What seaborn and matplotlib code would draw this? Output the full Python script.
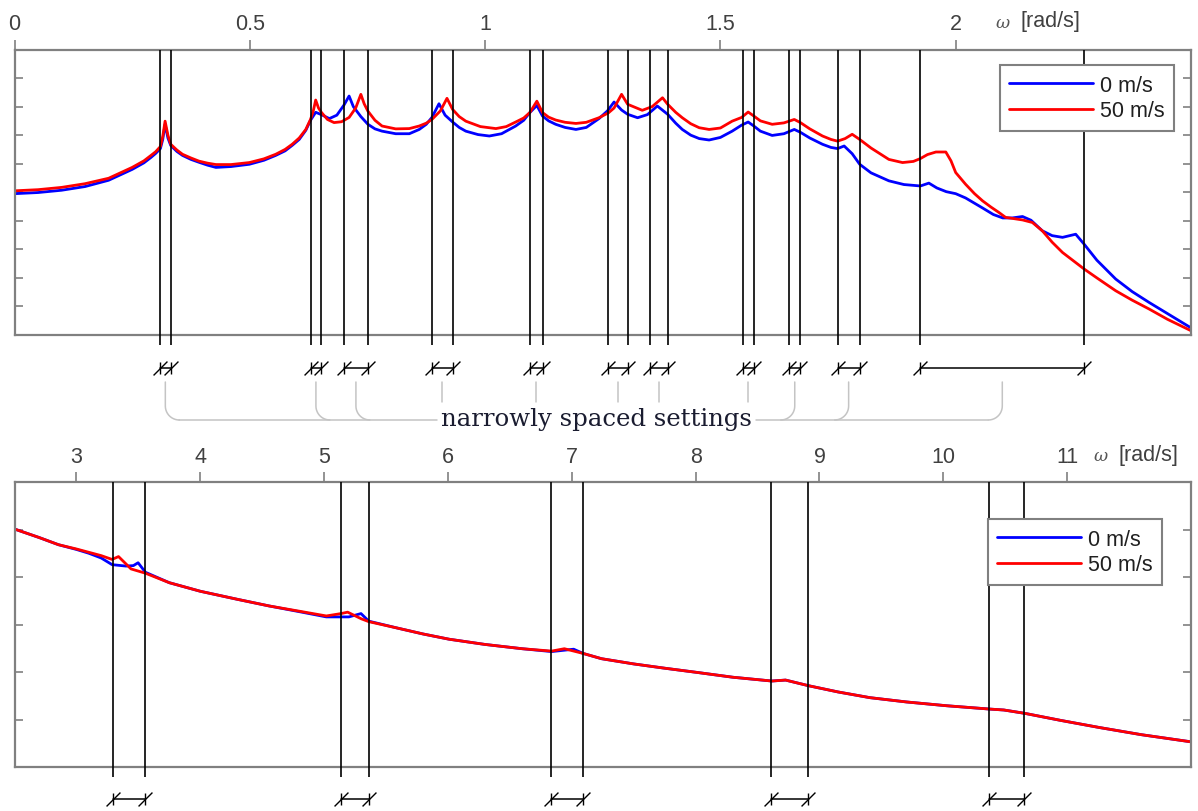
import numpy as np
import matplotlib
matplotlib.use("Agg")
import matplotlib.pyplot as plt
import seaborn as sns
from matplotlib.path import Path
from matplotlib.lines import Line2D

# ---------------- data ----------------
# upper panel (0 .. 2.5 rad/s)
top_w_blue = [0.000, 0.050, 0.100, 0.150, 0.200, 0.250, 0.275, 0.290, 0.300, 0.310,
              0.315, 0.320, 0.326, 0.332, 0.345, 0.357, 0.375, 0.392, 0.410, 0.428,
              0.460, 0.499, 0.530, 0.555, 0.575, 0.590, 0.605, 0.619, 0.629, 0.640,
              0.652, 0.669, 0.685, 0.700, 0.711, 0.720, 0.736, 0.751, 0.766, 0.781,
              0.810, 0.839, 0.860, 0.875, 0.887, 0.902, 0.915, 0.931, 0.945, 0.959,
              0.985, 1.009, 1.035, 1.065, 1.082, 1.095, 1.110, 1.122, 1.135, 1.150,
              1.170, 1.193, 1.215, 1.242, 1.260, 1.274, 1.290, 1.303, 1.324, 1.345,
              1.366, 1.388, 1.405, 1.419, 1.437, 1.455, 1.476, 1.500, 1.525, 1.545,
              1.559, 1.571, 1.585, 1.610, 1.635, 1.657, 1.670, 1.690, 1.717, 1.735,
              1.749, 1.763, 1.780, 1.796, 1.820, 1.858, 1.890, 1.925, 1.943, 1.960,
              1.980, 2.000, 2.021, 2.057, 2.080, 2.100, 2.120, 2.142, 2.160, 2.184,
              2.205, 2.227, 2.255, 2.273, 2.300, 2.340, 2.375, 2.411, 2.450, 2.500]
top_y_blue = [4.95, 4.99, 5.07, 5.20, 5.42, 5.80, 6.03, 6.22, 6.36, 6.53,
              6.85, 7.38, 6.90, 6.64, 6.43, 6.29, 6.15, 6.05, 5.95, 5.87,
              5.90, 5.98, 6.12, 6.29, 6.45, 6.64, 6.85, 7.17, 7.52, 7.80,
              7.72, 7.58, 7.70, 8.05, 8.37, 8.00, 7.65, 7.38, 7.22, 7.14,
              7.05, 7.05, 7.20, 7.38, 7.62, 8.10, 7.70, 7.46, 7.27, 7.14,
              7.02, 6.97, 7.05, 7.32, 7.52, 7.79, 8.04, 7.67, 7.50, 7.38,
              7.27, 7.20, 7.27, 7.58, 7.85, 8.16, 7.88, 7.73, 7.61, 7.72,
              8.02, 7.73, 7.42, 7.20, 7.00, 6.88, 6.83, 6.92, 7.14, 7.35,
              7.46, 7.32, 7.14, 6.99, 7.05, 7.20, 7.10, 6.90, 6.68, 6.57,
              6.53, 6.62, 6.35, 5.98, 5.68, 5.40, 5.27, 5.22, 5.32, 5.15,
              5.02, 4.95, 4.80, 4.45, 4.22, 4.10, 4.10, 4.15, 4.02, 3.65,
              3.48, 3.42, 3.53, 3.18, 2.62, 1.96, 1.52, 1.14, 0.75, 0.25]
top_w_red = [0.000, 0.050, 0.100, 0.150, 0.200, 0.250, 0.275, 0.290, 0.300, 0.310,
             0.315, 0.320, 0.326, 0.332, 0.345, 0.357, 0.375, 0.392, 0.410, 0.428,
             0.460, 0.499, 0.530, 0.555, 0.575, 0.590, 0.605, 0.619, 0.629, 0.635,
             0.640, 0.646, 0.652, 0.665, 0.679, 0.695, 0.711, 0.725, 0.736, 0.743,
             0.751, 0.766, 0.781, 0.810, 0.839, 0.860, 0.875, 0.887, 0.905, 0.919,
             0.931, 0.945, 0.959, 0.990, 1.023, 1.045, 1.065, 1.082, 1.095, 1.110,
             1.122, 1.135, 1.150, 1.170, 1.193, 1.215, 1.242, 1.262, 1.274, 1.290,
             1.303, 1.334, 1.355, 1.377, 1.388, 1.405, 1.419, 1.437, 1.455, 1.476,
             1.500, 1.525, 1.545, 1.559, 1.571, 1.585, 1.610, 1.635, 1.657, 1.670,
             1.690, 1.717, 1.735, 1.749, 1.765, 1.780, 1.796, 1.820, 1.858, 1.887,
             1.910, 1.925, 1.940, 1.958, 1.979, 1.990, 2.000, 2.021, 2.040, 2.057,
             2.075, 2.092, 2.106, 2.142, 2.163, 2.184, 2.205, 2.227, 2.250, 2.273,
             2.300, 2.340, 2.375, 2.411, 2.450, 2.500]
top_y_red = [5.05, 5.09, 5.17, 5.30, 5.49, 5.87, 6.10, 6.29, 6.42, 6.60,
             6.95, 7.49, 7.00, 6.68, 6.48, 6.33, 6.20, 6.09, 6.02, 5.97,
             5.97, 6.04, 6.17, 6.33, 6.50, 6.68, 6.90, 7.20, 7.55, 7.85,
             8.23, 7.95, 7.80, 7.55, 7.44, 7.47, 7.62, 7.95, 8.43, 8.10,
             7.84, 7.52, 7.32, 7.22, 7.23, 7.32, 7.42, 7.55, 7.85, 8.29,
             7.90, 7.65, 7.49, 7.30, 7.23, 7.30, 7.46, 7.60, 7.79, 8.19,
             7.79, 7.63, 7.53, 7.45, 7.41, 7.45, 7.61, 7.78, 7.95, 8.43,
             8.08, 7.87, 8.00, 8.31, 8.08, 7.80, 7.61, 7.40, 7.26, 7.20,
             7.25, 7.49, 7.62, 7.81, 7.67, 7.50, 7.38, 7.43, 7.55, 7.44,
             7.22, 6.97, 6.85, 6.79, 6.88, 7.03, 6.85, 6.55, 6.15, 6.04,
             6.08, 6.18, 6.32, 6.41, 6.41, 6.10, 5.69, 5.28, 4.95, 4.70,
             4.48, 4.29, 4.12, 4.03, 3.94, 3.65, 3.25, 2.89, 2.60, 2.31,
             2.00, 1.55, 1.22, 0.91, 0.55, 0.15]

# lower panel (2.5 .. 12 rad/s)
bot_w_blue = [2.50, 2.70, 2.855, 3.00, 3.10, 3.20, 3.288, 3.40, 3.460, 3.498,
              3.557, 3.75, 4.00, 4.30, 4.557, 4.80, 5.018, 5.20, 5.298, 5.361,
              5.60, 5.80, 6.01, 6.30, 6.60, 6.837, 7.015, 7.093, 7.24, 7.50,
              7.75, 8.015, 8.30, 8.615, 8.726, 8.914, 9.15, 9.407, 9.70, 10.025,
              10.372, 10.489, 10.657, 10.95, 11.263, 11.60, 12.0]
bot_y_blue = [5.01, 4.83, 4.68, 4.58, 4.50, 4.40, 4.26, 4.23, 4.24, 4.30,
              4.10, 3.88, 3.70, 3.53, 3.39, 3.27, 3.16, 3.16, 3.23, 3.07,
              2.92, 2.80, 2.69, 2.58, 2.49, 2.43, 2.48, 2.39, 2.28, 2.17,
              2.08, 1.99, 1.89, 1.81, 1.83, 1.71, 1.58, 1.46, 1.37, 1.29,
              1.22, 1.20, 1.13, 0.98, 0.83, 0.68, 0.53]
bot_w_red = [2.50, 2.70, 2.855, 3.00, 3.10, 3.20, 3.288, 3.340, 3.441, 3.557,
             3.75, 4.00, 4.30, 4.557, 4.80, 5.018, 5.137, 5.190, 5.30, 5.361,
             5.60, 5.80, 6.01, 6.30, 6.60, 6.837, 6.94, 7.093, 7.24, 7.50,
             7.75, 8.015, 8.30, 8.615, 8.726, 8.914, 9.15, 9.407, 9.70, 10.025,
             10.372, 10.489, 10.657, 10.95, 11.263, 11.60, 12.0]
bot_y_red = [5.01, 4.83, 4.68, 4.59, 4.52, 4.45, 4.37, 4.43, 4.17, 4.08,
             3.88, 3.70, 3.53, 3.39, 3.28, 3.18, 3.23, 3.26, 3.12, 3.06,
             2.92, 2.80, 2.69, 2.58, 2.49, 2.44, 2.49, 2.39, 2.28, 2.17,
             2.08, 1.99, 1.89, 1.81, 1.83, 1.71, 1.58, 1.46, 1.37, 1.29,
             1.22, 1.20, 1.13, 0.98, 0.83, 0.68, 0.53]

# controller settings (pairs of frequencies)
top_pairs = [(0.309, 0.332), (0.629, 0.652), (0.700, 0.751), (0.887, 0.931),
             (1.095, 1.122), (1.262, 1.303), (1.350, 1.388), (1.547, 1.571),
             (1.646, 1.670), (1.749, 1.796), (1.925, 2.273)]
bot_pairs = [(3.297, 3.557), (5.137, 5.361), (6.836, 7.093), (8.611, 8.910), (10.365, 10.652)]
left_group = [0, 1, 2]
straight_group = [3, 4, 5, 6, 7]
right_group = [8, 9, 10]

top_ticks = [0, 0.5, 1, 1.5, 2]
top_tick_labels = ["0", "0.5", "1", "1.5", "2"]
bot_ticks = [3, 4, 5, 6, 7, 8, 9, 10, 11]
bot_tick_labels = ["3", "4", "5", "6", "7", "8", "9", "10", "11"]
series_labels = ["0 m/s", "50 m/s"]
axis_unit = "[rad/s]"
annotation = "narrowly spaced settings"

# ---------------- style ----------------
sns.set_style("white")
plt.rcParams["font.family"] = ["Liberation Sans", "DejaVu Sans"]

W, H = 1198, 812
fig = plt.figure(figsize=(W / 100, H / 100), dpi=100)
GRAY = "#808080"
TXT = "#404040"
BLUE = (0, 0, 1)
RED = (1, 0, 0)


def add_panel(rect_px, xlim, ylim, yticks, xticks, xlabels):
    l, t, r, b = rect_px
    ax = fig.add_axes([l / W, 1 - b / H, (r - l) / W, (b - t) / H])
    ax.set_xlim(*xlim)
    ax.set_ylim(*ylim)
    ax.xaxis.tick_top()
    ax.set_xticks(xticks)
    ax.set_xticklabels(xlabels)
    ax.set_yticks(yticks)
    ax.set_yticklabels([])
    ax.tick_params(axis="x", direction="out", top=True, bottom=False, length=7, width=1.2,
                   color=GRAY, labelsize=15.5, labelcolor=TXT, pad=4)
    ax.tick_params(axis="y", direction="in", left=True, right=True, length=5.5, width=1.2,
                   color=GRAY)
    for s in ax.spines.values():
        s.set_color(GRAY)
        s.set_linewidth(1.6)
        s.set_visible(True)
    return ax


ax1 = add_panel((14.5, 50.5, 1191, 336), (0, 2.5), (0, 10), range(1, 10), top_ticks, top_tick_labels)
ax2 = add_panel((14.5, 483, 1191, 768), (2.5, 12), (0, 6), range(1, 6), bot_ticks, bot_tick_labels)

sns.lineplot(x=top_w_blue, y=top_y_blue, ax=ax1, color=BLUE, linewidth=2.0, label=series_labels[0], zorder=2)
sns.lineplot(x=top_w_red, y=top_y_red, ax=ax1, color=RED, linewidth=2.0, label=series_labels[1], zorder=2)
sns.lineplot(x=bot_w_blue, y=bot_y_blue, ax=ax2, color=BLUE, linewidth=2.0, label=series_labels[0], zorder=2)
sns.lineplot(x=bot_w_red, y=bot_y_red, ax=ax2, color=RED, linewidth=2.0, label=series_labels[1], zorder=2)
for ax in (ax1, ax2):
    ax.set_xlabel("")
    ax.set_ylabel("")

slash = Path([(-1, -1), (1, 1)])


def draw_settings(ax, pairs, ext_frac, mark_frac):
    tr = ax.get_xaxis_transform()
    for a, b in pairs:
        ax.vlines([a, b], -ext_frac, 1, transform=tr, colors="k", linewidth=1.2,
                  clip_on=False, zorder=3)
        ax.plot([a, b], [mark_frac, mark_frac], transform=tr, color="k", lw=1.1,
                clip_on=False, zorder=3)
        ax.plot([a, b], [mark_frac, mark_frac], transform=tr, linestyle="none",
                marker=slash, markersize=10, markeredgewidth=1.0, color="k", clip_on=False)
        ax.plot([a, b], [mark_frac, mark_frac], transform=tr, linestyle="none",
                marker="|", markersize=8, markeredgewidth=1.0, color="k", clip_on=False)


draw_settings(ax1, top_pairs, 10 / 285.5, (336 - 369) / 285.5)
draw_settings(ax2, bot_pairs, 10 / 285, (768 - 800) / 285)

# legends
for ax, (xr, yt) in ((ax1, (1174, 66)), (ax2, (1162, 520))):
    leg = ax.legend(loc="upper right", bbox_to_anchor=(xr / W, 1 - yt / H),
                    bbox_transform=fig.transFigure, borderaxespad=0, frameon=True,
                    fancybox=False, framealpha=1, edgecolor=GRAY, fontsize=15.5,
                    handlelength=3.9, handletextpad=0.3, labelspacing=0.22, borderpad=0.45)
    leg.get_frame().set_linewidth(1.5)
    for t in leg.get_texts():
        t.set_color("#202020")
    leg.set_zorder(10)

# axis unit labels
for (xw, xu, yc) in ((1003, 1020, 23), (1101, 1118, 457)):
    fig.text(xw / W, 1 - yc / H, "ω", ha="center", va="center", family="DejaVu Serif",
             style="italic", size=12.5, color="#555555")
    fig.text(xu / W, 1 - (yc - 1) / H, axis_unit, ha="left", va="center", size=15.5, color=TXT)

# annotation text and connectors
txt = fig.text(596.5 / W, 1 - 426 / H, annotation, ha="center", va="baseline",
               family="DejaVu Serif", size=17.6, color="#1a1c30")
fig.canvas.draw()
bb = txt.get_window_extent()

CONN = "#c4c4c4"


def fig_line(xs, ys):
    xs = np.asarray(xs, dtype=float) / W
    ys = 1 - np.asarray(ys, dtype=float) / H
    fig.add_artist(Line2D(xs, ys, transform=fig.transFigure, color=CONN, lw=1.1))


def px(xval):
    return ax1.transData.transform((xval, 0))[0]


y_top, y_end, y_h, r = 383, 403, 421, 14
theta = np.linspace(0, np.pi / 2, 12)
mids = [px((a + b) / 2) for a, b in top_pairs]
for i in straight_group:
    fig_line([mids[i], mids[i]], [y_top, y_end])
for i in left_group:
    xc = mids[i]
    arc_x = xc + r - r * np.cos(theta)
    arc_y = y_h - r + r * np.sin(theta)
    fig_line(np.r_[xc, arc_x], np.r_[y_top, arc_y])
fig_line([mids[left_group[0]] + r, bb.x0 - 4], [y_h, y_h])
for i in right_group:
    xc = mids[i]
    arc_x = xc - r + r * np.cos(theta)
    arc_y = y_h - r + r * np.sin(theta)
    fig_line(np.r_[xc, arc_x], np.r_[y_top, arc_y])
fig_line([bb.x1 + 4, mids[right_group[-1]] - r], [y_h, y_h])

fig.savefig("out.png", dpi=100)
